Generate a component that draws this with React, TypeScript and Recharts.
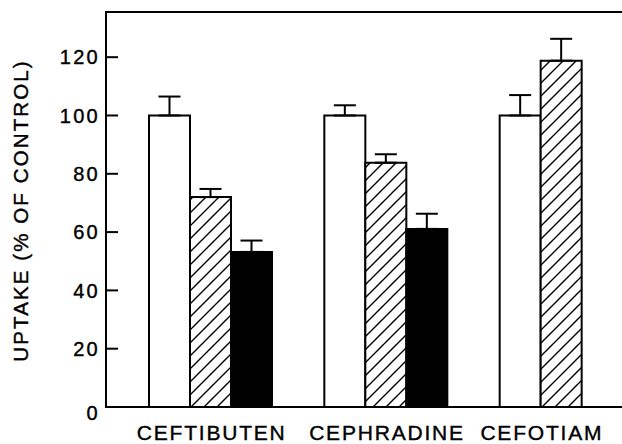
import React from "react";
import { BarChart, Bar, XAxis, YAxis, ErrorBar, ReferenceLine } from "recharts";

const drugs = ["CEFTIBUTEN", "CEPHRADINE", "CEFOTIAM"];
const openUptake = [100, 100, 100];
const openErr = [6.5, 3.5, 7];
const hatchedUptake = [72, 83.8, 118.8];
const hatchedErr = [2.8, 2.9, 7.5];
const solidUptake: (number | null)[] = [53.2, 61.1, null];
const solidErr: (number | null)[] = [3.9, 5.2, null];
const yTicks = [0, 20, 40, 60, 80, 100, 120];
const yTop = 135.5;

const FONT = "'Liberation Sans', Arial, sans-serif";
const BAR = 41;

const data = drugs.map((drug, i) => ({
  drug,
  open: openUptake[i],
  openErr: [0, openErr[i]],
  hatched: hatchedUptake[i],
  hatchedErr: [0, hatchedErr[i]],
  solid: solidUptake[i],
  solidErr: solidErr[i] == null ? null : [0, solidErr[i]],
}));

const YTick = (props: any) => {
  const { x, y, payload } = props;
  return (
    <text
      x={x}
      y={payload.value === 0 ? y + 6 : y}
      dy="0.36em"
      textAnchor="end"
      fontSize={20}
      letterSpacing={2.3}
      fontFamily={FONT}
      fill="#000"
      stroke="#000"
      strokeWidth={0.4}
    >
      {payload.value}
    </text>
  );
};

// label sits under the bars that are actually present
const XTick = (props: any) => {
  const { x, y, payload, index } = props;
  const dx = solidUptake[index] == null ? -BAR / 2 : 0;
  return (
    <text
      x={x + dx + 1}
      y={y}
      dy="0.71em"
      textAnchor="middle"
      fontSize={21}
      letterSpacing={1.8}
      fontFamily={FONT}
      fill="#000"
      stroke="#000"
      strokeWidth={0.4}
    >
      {payload.value}
    </text>
  );
};

// axis title, plus the left frame edge along the y axis box
const YLabel = (props: any) => {
  const { viewBox } = props;
  const cy = viewBox.y + viewBox.height / 2 + 1;
  const cx = 27.5;
  const ax = viewBox.x + viewBox.width;
  return (
    <g>
      <line x1={ax} x2={ax} y1={viewBox.y - 1} y2={viewBox.y + viewBox.height + 1} stroke="#000" strokeWidth={2} />
      <text
        x={cx}
        y={cy}
        transform={`rotate(-90, ${cx}, ${cy})`}
        textAnchor="middle"
        fontSize={20.5}
        letterSpacing={2.1}
        fontFamily={FONT}
        fill="#000"
        stroke="#000"
        strokeWidth={0.4}
      >
        UPTAKE (% OF CONTROL)
      </text>
    </g>
  );
};

export default function App() {
  return (
    <div
      style={{
        position: "fixed",
        left: 0,
        top: 0,
        width: 622,
        height: 444,
        overflow: "hidden",
        background: "#fff",
      }}
    >
      <BarChart
        width={649}
        height={444}
        data={data}
        margin={{ top: 12, right: 0, bottom: 0, left: 0 }}
        barSize={BAR}
        barGap={0}
      >
        <defs>
          <pattern id="hatch" patternUnits="userSpaceOnUse" width={13} height={13}>
            <rect width={13} height={13} fill="#fff" />
            <path d="M-2,2 L2,-2 M0,13 L13,0 M11,15 L15,11" stroke="#000" strokeWidth={1.4} />
          </pattern>
        </defs>
        <XAxis
          dataKey="drug"
          height={37}
          padding={{ left: 17, right: 0 }}
          tickSize={0}
          tickMargin={18}
          tick={<XTick />}
          axisLine={{ stroke: "#000", strokeWidth: 2 }}
        />
        <YAxis
          width={106}
          domain={[0, yTop]}
          ticks={yTicks}
          tickSize={-12}
          tickMargin={18}
          tickLine={{ stroke: "#000", strokeWidth: 2 }}
          tick={<YTick />}
          axisLine={{ stroke: "#000", strokeWidth: 2 }}
          label={<YLabel />}
        />
        <ReferenceLine y={yTop} stroke="#000" strokeWidth={2} ifOverflow="visible" />
        <Bar dataKey="open" fill="#fff" stroke="#000" strokeWidth={2} isAnimationActive={false}>
          <ErrorBar dataKey="openErr" width={11} stroke="#000" strokeWidth={2} direction="y" />
        </Bar>
        <Bar dataKey="hatched" fill="url(#hatch)" stroke="#000" strokeWidth={2} isAnimationActive={false}>
          <ErrorBar dataKey="hatchedErr" width={11} stroke="#000" strokeWidth={2} direction="y" />
        </Bar>
        <Bar dataKey="solid" fill="#000" stroke="#000" strokeWidth={2} isAnimationActive={false}>
          <ErrorBar dataKey="solidErr" width={11} stroke="#000" strokeWidth={2} direction="y" />
        </Bar>
      </BarChart>
    </div>
  );
}
